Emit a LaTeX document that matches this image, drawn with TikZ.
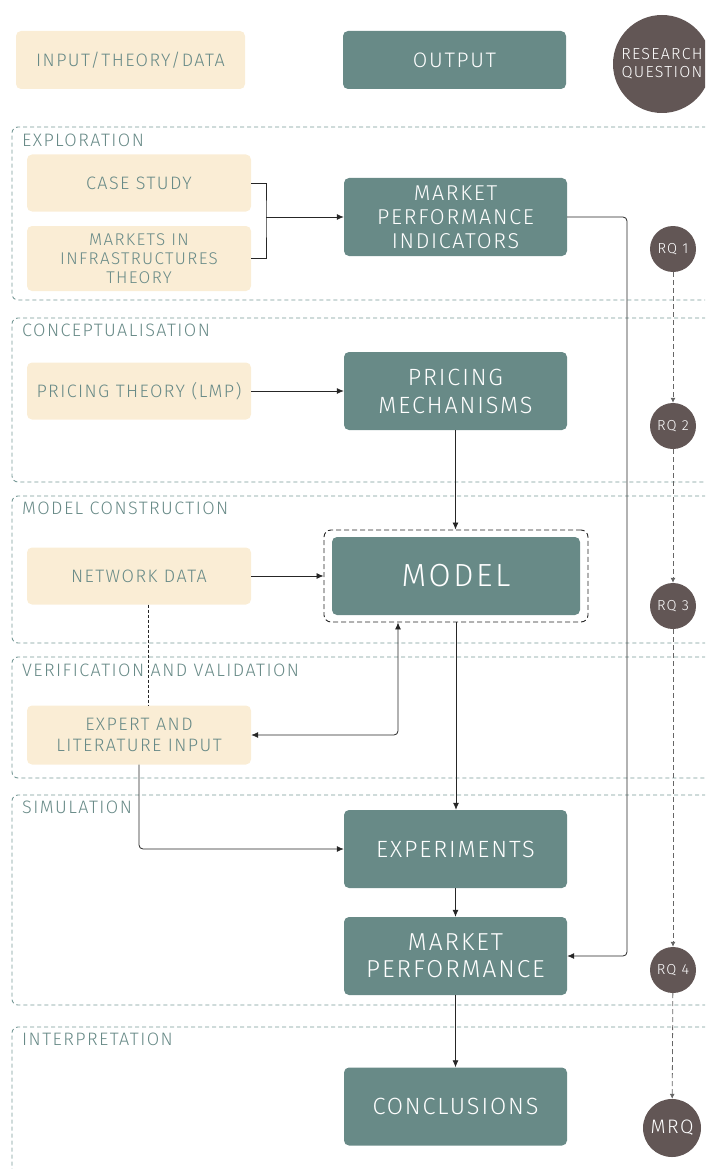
\documentclass[tikz,border=0pt]{standalone}
\usepackage{fontspec}
\setmainfont{Fira Sans Light}[LetterSpace=8]
\usetikzlibrary{arrows.meta}

\definecolor{cream}{RGB}{250,237,213}
\definecolor{outc}{RGB}{104,138,135}
\definecolor{intext}{RGB}{104,138,135}
\definecolor{rqc}{RGB}{98,86,85}
\definecolor{framec}{RGB}{118,152,150}
\definecolor{framet}{RGB}{104,138,135}

\tikzset{
  inbox/.style={rectangle, rounded corners=5pt, fill=cream, text=intext,
    minimum width=224pt, minimum height=57pt, align=center, inner sep=0pt,
    font=\fontsize{18}{20}\selectfont},
  outbox/.style={rectangle, rounded corners=5pt, fill=outc, text=white,
    minimum width=223pt, minimum height=78pt, align=center, inner sep=0pt,
    font=\fontsize{23.5}{26}\selectfont},
  rq/.style={circle, fill=rqc, text=white, minimum size=46pt, inner sep=0pt,
    align=center, font=\fontsize{14.5}{16}\selectfont},
  phase/.style={draw=framec, dash pattern=on 4pt off 3pt, line width=0.9pt,
    rounded corners=6pt},
  phaselabel/.style={anchor=west, text=framet, inner sep=0pt,
    font=\fontsize{18}{20}\selectfont},
  link/.style={draw=black!85, line width=0.8pt},
  flow/.style={link, -{Latex[length=7pt,width=6pt]}},
  rqflow/.style={draw=black!60, line width=0.8pt, dash pattern=on 5pt off 3pt,
    -{Latex[length=5pt,width=5pt]}},
}

\begin{document}
\begin{tikzpicture}[x=1pt,y=-1pt]
\useasboundingbox (0,0) rectangle (705,1169);
\clip (0,0) rectangle (705,1169);

% legend
\node[inbox, minimum width=229pt, minimum height=58pt] (lin) at (130.5,60) {INPUT/THEORY/DATA};
\node[outbox, minimum height=58pt, font=\fontsize{21}{24}\selectfont] (lout) at (454.5,60) {OUTPUT};
\node[rq, minimum size=98pt, font=\fontsize{16}{18}\selectfont] (lrq) at (662,64) {RESEARCH\\QUESTION};

% phase frames (open towards the right edge)
\draw[phase] (720,127) -- (12,127) -- (12,300) -- (720,300);
\draw[phase] (720,318) -- (12,318) -- (12,482) -- (720,482);
\draw[phase] (720,496) -- (12,496) -- (12,643) -- (720,643);
\draw[phase] (720,657) -- (12,657) -- (12,778) -- (720,778);
\draw[phase] (720,795) -- (12,795) -- (12,1005) -- (720,1005);
\draw[phase] (720,1027) -- (12,1027) -- (12,1200);

\node[phaselabel] (p1) at (22,140) {EXPLORATION};
\node[phaselabel] (p2) at (22,330) {CONCEPTUALISATION};
\node[phaselabel] (p3) at (22,508) {MODEL CONSTRUCTION};
\node[phaselabel] (p4) at (22,670) {VERIFICATION AND VALIDATION};
\node[phaselabel] (p5) at (22,807) {SIMULATION};
\node[phaselabel] (p6) at (22,1039) {INTERPRETATION};

% boxes
\node[inbox] (case) at (139,183) {CASE STUDY};
\node[inbox, minimum height=65pt, font=\fontsize{17}{19}\selectfont] (mit) at (139,258.5) {MARKETS IN\\INFRASTRUCTURES\\THEORY};
\node[outbox, font=\fontsize{21.5}{24}\selectfont] (mpi) at (455.5,217) {MARKET\\PERFORMANCE\\INDICATORS};
\node[inbox] (pt) at (139,391) {PRICING THEORY (LMP)};
\node[outbox, font=\fontsize{23.5}{28}\selectfont] (pm) at (455.5,391) {PRICING\\MECHANISMS};
\node[inbox] (nd) at (139,576) {NETWORK DATA};
\node[outbox, minimum width=248pt, font=\fontsize{32}{32}\selectfont] (model) at (456,576) {MODEL};
\node[draw=black!85, dash pattern=on 5pt off 3pt, line width=0.9pt, rounded corners=7pt,
      minimum width=264pt, minimum height=92pt, inner sep=0pt] (mframe) at (456,576) {};
\node[inbox, minimum height=59pt, font=\fontsize{18}{21}\selectfont] (exp) at (139,735) {EXPERT AND\\LITERATURE INPUT};
\node[outbox] (expm) at (455.5,849) {EXPERIMENTS};
\node[outbox, font=\fontsize{24.5}{27}\selectfont] (mp) at (455.5,956) {MARKET\\PERFORMANCE};
\node[outbox] (concl) at (455.5,1106.5) {CONCLUSIONS};

% research questions
\node[rq] (rq1) at (673,249) {RQ 1};
\node[rq] (rq2) at (673,426) {RQ 2};
\node[rq] (rq3) at (673,606) {RQ 3};
\node[rq] (rq4) at (673,970) {RQ 4};
\node[rq, minimum size=58pt, font=\fontsize{19.5}{20}\selectfont] (mrq) at (672,1128) {MRQ};

% connectors
\coordinate (br) at (266,217);
\draw[link] (case.east) -| (br) |- (mit.east);
\draw[flow] (br) -- (mpi.west);

\coordinate (rail) at (627,217);
\draw[flow, rounded corners=4pt] (mpi.east) -- (rail) |- (mp.east);

\draw[flow] (pt.east) -- (pm.west);
\draw[flow] (pm.south) -- (pm.south |- mframe.north);
\draw[flow] (nd.east) -- (nd.east -| mframe.west);
\draw[link, dash pattern=on 3pt off 2pt, line width=0.6pt] ([xshift=9pt]nd.south) -- ([xshift=9pt]exp.north);
\draw[link, {Latex[length=7pt,width=6pt]}-{Latex[length=7pt,width=6pt]}, rounded corners=4pt]
  (exp.east) -| ([xshift=-58pt]mframe.south);
\draw[flow] (mframe.south) -- (mframe.south |- expm.north);
\draw[flow, rounded corners=4pt] (exp.south) |- (expm.west);
\draw[flow] (expm.south) -- (mp.north);
\draw[flow] (mp.south) -- (concl.north);

\draw[rqflow] (rq1) -- (rq2);
\draw[rqflow] (rq2) -- (rq3);
\draw[rqflow] (rq3) -- (rq4);
\draw[rqflow] (rq4) -- (mrq);
\end{tikzpicture}
\end{document}
